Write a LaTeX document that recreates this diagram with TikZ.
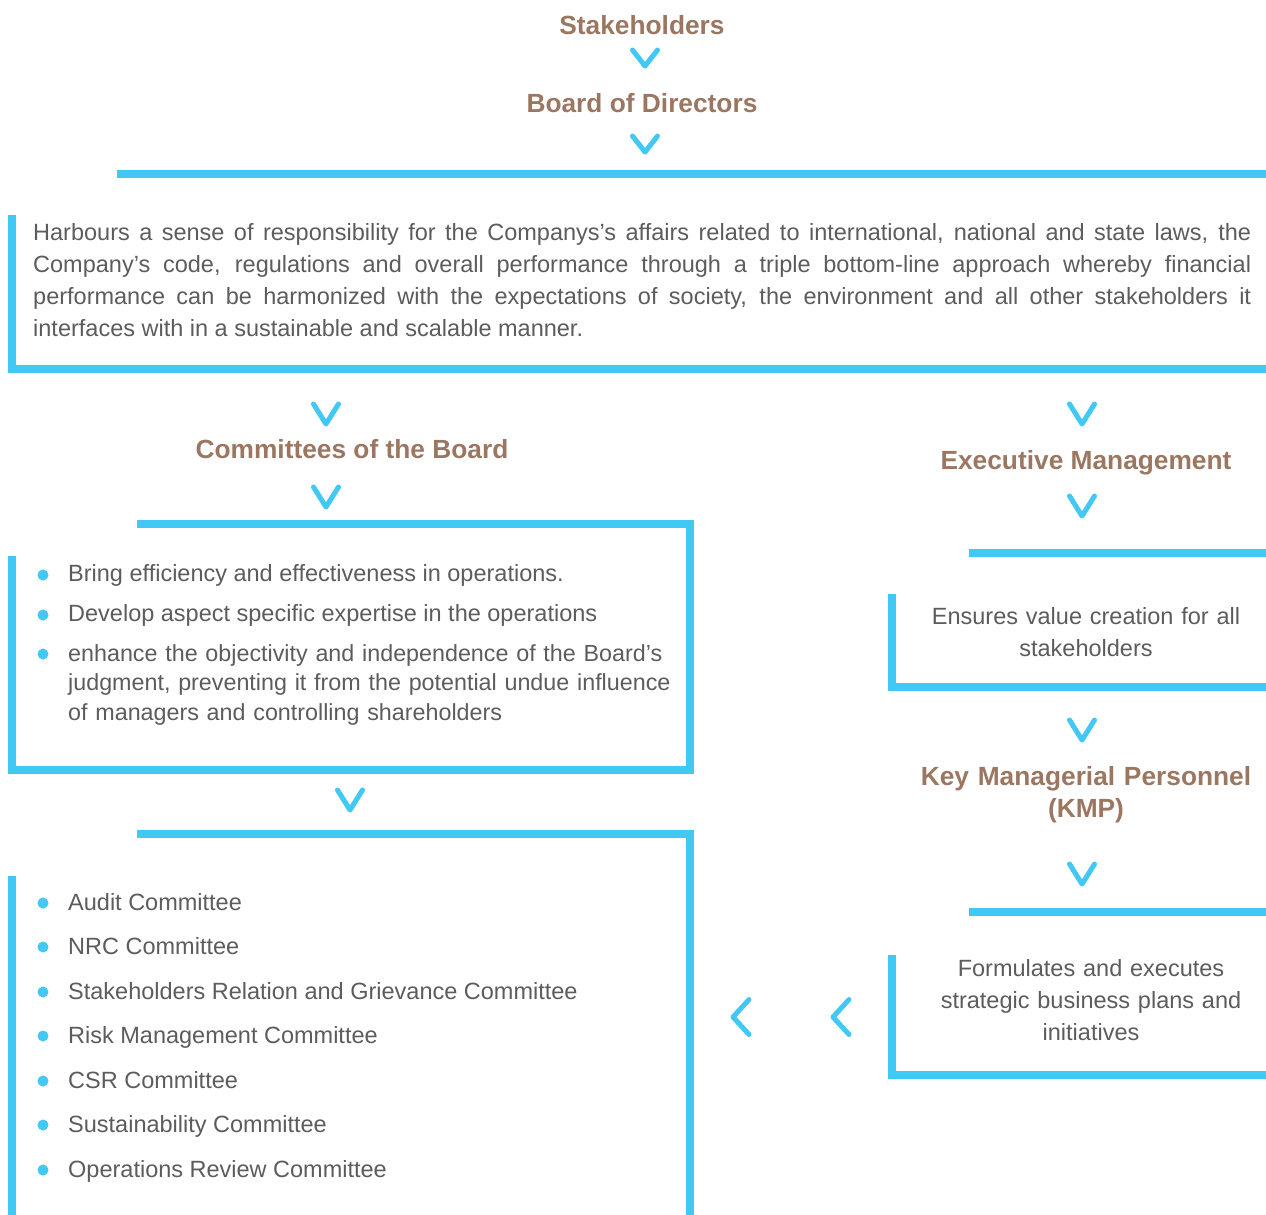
\documentclass[tikz,border=0pt]{standalone}
\usepackage{fontspec}
\setmainfont{Liberation Sans}
\definecolor{flowcyan}{RGB}{66,200,245}
\definecolor{headbrown}{RGB}{155,119,98}
\definecolor{bodygray}{RGB}{92,92,92}
\tikzset{
  frame/.style={draw=flowcyan, line width=8pt, line cap=butt, line join=miter},
  chev/.style={draw=flowcyan, line width=5pt, line cap=round, line join=round},
  head/.style={inner sep=0pt, text=headbrown, font=\fontsize{26.3}{32}\selectfont\bfseries},
  body/.style={inner sep=0pt, text=bodygray, font=\fontsize{23.5}{32}\selectfont},
  dot/.style={circle, fill=flowcyan, inner sep=0pt, minimum size=11pt},
  vsmall/.pic={\path[chev] (-12.5,-8) -- (0,8) -- (12.5,-8);},
  vbig/.pic={\path[chev] (-12.5,-10) -- (0,10) -- (12.5,-10);},
  vleft/.pic={\path[chev] (8,-17.5) -- (-8,0) -- (8,17.5);}
}
\begin{document}
\begin{tikzpicture}[x=1pt,y=-1pt]
\useasboundingbox (0,0) rectangle (1266,1215);

% headings
\node[head, anchor=base] (stake) at (642,35) {Stakeholders};
\node[head, anchor=base] (board) at (642,112.5) {Board of Directors};
\node[head, anchor=base] (cob) at (352,458) {Committees of the Board};
\node[head, anchor=base] (exec) at (1086,469.5) {Executive Management};
\node[head, anchor=base, text width=400pt, align=center] (kmp) at (1086,785.5) {Key Managerial Personnel\\(KMP)};

% chevrons
\pic at (645,58) {vsmall};
\pic at (645,144) {vsmall};
\pic at (326,414) {vbig};
\pic at (1082,414) {vbig};
\pic at (326,497) {vbig};
\pic at (1082,506) {vbig};
\pic at (1082,730) {vbig};
\pic at (350,800) {vbig};
\pic at (1082,874) {vbig};
\pic at (741,1017) {vleft};
\pic at (841,1017) {vleft};

% board box
\path[frame] (117,174) -- (1266,174);
\path[frame] (12,215) -- (12,369) -- (1266,369);
\node[body, anchor=base west, text width=1218pt, align=justify] (role) at (33,240)
{Harbours a sense of responsibility for the Companys’s affairs related to international, national and state laws, the\linebreak
Company’s code, regulations and overall performance through a triple bottom-line approach whereby financial\linebreak
performance can be harmonized with the expectations of society, the environment and all other stakeholders it\linebreak
interfaces with in a sustainable and scalable manner.};

% committees purpose box
\path[frame] (137,524) -- (690,524) -- (690,769.5) -- (12,769.5) -- (12,556);
\node[dot] (p1) at (43,575) {};
\node[body, anchor=base west] (t1) at (68,581.5) {Bring efficiency and effectiveness in operations.};
\node[dot] (p2) at (43,615) {};
\node[body, anchor=base west] (t2) at (68,621.5) {Develop aspect specific expertise in the operations};
\node[dot] (p3) at (43,654) {};
\node[body, anchor=base west, text width=610pt, align=left, font=\fontsize{23.3}{29.5}\selectfont] (t3) at (68,661)
{enhance the objectivity and independence of the Board’s\\judgment, preventing it from the potential undue influence\\of managers and controlling shareholders};

% committees list box
\path[frame] (137,834) -- (690,834) -- (690,1215);
\path[frame] (12,876) -- (12,1215);
\foreach \y/\name/\txt in {910/c1/Audit Committee,
                           954/c2/NRC Committee,
                           999/c3/Stakeholders Relation and Grievance Committee,
                           1043/c4/Risk Management Committee,
                           1088/c5/CSR Committee,
                           1132/c6/Sustainability Committee,
                           1177/c7/Operations Review Committee}{
  \node[dot] (\name d) at (43,\y-7) {};
  \node[body, anchor=base west] (\name) at (68,\y) {\txt};
}

% executive management box
\path[frame] (969,553) -- (1266,553);
\path[frame] (892,594) -- (892,687) -- (1266,687);
\node[body, anchor=base, text width=360pt, align=center] (value) at (1086,624) {Ensures value creation for all\\stakeholders};

% KMP box
\path[frame] (969,912) -- (1266,912);
\path[frame] (892,955) -- (892,1075) -- (1266,1075);
\node[body, anchor=base, text width=360pt, align=center] (plans) at (1091,976) {Formulates and executes\\strategic business plans and\\initiatives};
\end{tikzpicture}
\end{document}
